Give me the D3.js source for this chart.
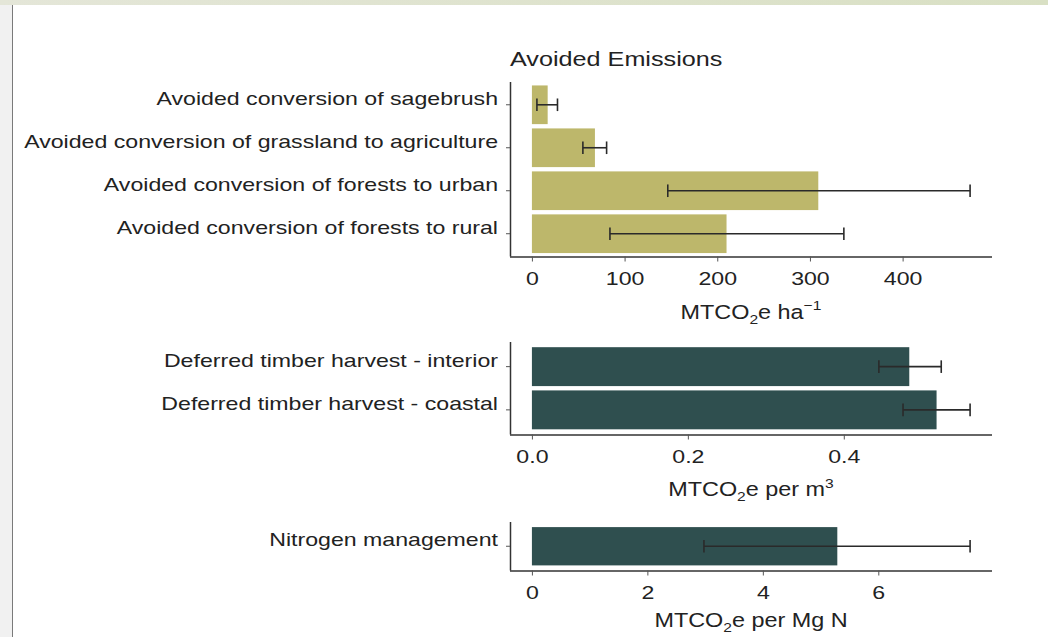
<!DOCTYPE html>
<html>
<head>
<meta charset="utf-8">
<script src="https://cdn.jsdelivr.net/npm/d3@7/dist/d3.min.js"></script>
<style>
  html, body { margin: 0; padding: 0; background: #fff; }
  svg { display: block; }
  text { font-family: "Liberation Sans", Arial, sans-serif; }
</style>
</head>
<body>
<svg id="chart" width="1048" height="637"></svg>
<script>
// Avoided emissions (MTCO2e ha^-1)
const avoidedCategories = [
  "Avoided conversion of sagebrush",
  "Avoided conversion of grassland to agriculture",
  "Avoided conversion of forests to urban",
  "Avoided conversion of forests to rural"
];
const avoidedValues = [17, 68, 309, 210];
const avoidedLow = [5.4, 55, 146.6, 84.2];
const avoidedHigh = [27.6, 80.6, 472.8, 336.6];
const avoidedTicks = [0, 100, 200, 300, 400];

// Deferred timber harvest (MTCO2e per m^3)
const timberCategories = [
  "Deferred timber harvest - interior",
  "Deferred timber harvest - coastal"
];
const timberValues = [0.484, 0.519];
const timberLow = [0.445, 0.476];
const timberHigh = [0.525, 0.562];
const timberTicks = [0, 0.2, 0.4];

// Nitrogen management (MTCO2e per Mg N)
const nitrogenCategories = ["Nitrogen management"];
const nitrogenValues = [5.29];
const nitrogenLow = [2.98];
const nitrogenHigh = [7.59];
const nitrogenTicks = [0, 2, 4, 6];

const svg = d3.select("#chart");

// wide-set text: horizontal stretch applied to labels
const LABEL_STRETCH = 1.25;
const TITLE_STRETCH = 1.2;
const textColor = "#222";

// page frame
const frameGrad = svg.append("defs").append("linearGradient")
  .attr("id", "topband").attr("x1", 0).attr("x2", 1);
frameGrad.append("stop").attr("offset", 0).attr("stop-color", "#e4e6d8");
frameGrad.append("stop").attr("offset", 1).attr("stop-color", "#d9e0c4");
svg.append("rect").attr("x", 0).attr("y", 0).attr("width", 1048).attr("height", 5)
  .attr("fill", "url(#topband)");
svg.append("rect").attr("x", 0).attr("y", 5).attr("width", 12).attr("height", 632)
  .attr("fill", "#f1f1f1");
svg.append("line").attr("x1", 12.5).attr("x2", 12.5).attr("y1", 5).attr("y2", 637)
  .attr("stroke", "#7a7a7a").attr("stroke-width", 1);

const left = 510, right = 992;

function panel(opts) {
  const { categories, values, low, high, ticks, fmt, color, top, bottom, bandPad } = opts;
  const maxV = d3.max(high);
  const pad = maxV * 0.05;
  const x = d3.scaleLinear().domain([-pad, maxV + pad]).range([left, right]);
  const y = d3.scaleBand().domain(categories).range([top, bottom]).paddingInner(0.1).paddingOuter(bandPad);

  const g = svg.append("g");

  g.selectAll("rect.bar").data(values).join("rect")
    .attr("class", "bar")
    .attr("x", x(0))
    .attr("y", (d, i) => y(categories[i]))
    .attr("width", d => x(d) - x(0))
    .attr("height", y.bandwidth())
    .attr("fill", color);

  const cap = 6.3;
  const eb = g.selectAll("g.err").data(values).join("g").attr("class", "err")
    .attr("transform", (d, i) => `translate(0,${y(categories[i]) + y.bandwidth() / 2})`);
  eb.append("line")
    .attr("x1", (d, i) => x(low[i])).attr("x2", (d, i) => x(high[i]))
    .attr("stroke", "#2a2a2a").attr("stroke-width", 1.6);
  eb.append("line")
    .attr("x1", (d, i) => x(low[i])).attr("x2", (d, i) => x(low[i]))
    .attr("y1", -cap).attr("y2", cap)
    .attr("stroke", "#2a2a2a").attr("stroke-width", 1.6);
  eb.append("line")
    .attr("x1", (d, i) => x(high[i])).attr("x2", (d, i) => x(high[i]))
    .attr("y1", -cap).attr("y2", cap)
    .attr("stroke", "#2a2a2a").attr("stroke-width", 1.6);

  // axes
  const xAxis = d3.axisBottom(x).tickValues(ticks).tickFormat(fmt).tickSize(5).tickPadding(10);
  const xa = g.append("g").attr("transform", `translate(0,${bottom})`).call(xAxis);
  xa.select(".domain").attr("d", `M${left},0.5H${right}`).attr("stroke", "#333").attr("stroke-width", 1.5);
  xa.selectAll(".tick line").attr("stroke", "#555");
  xa.selectAll(".tick text").attr("font-size", 18.5).attr("fill", textColor)
    .attr("transform", `scale(${LABEL_STRETCH},1)`);

  const yAxis = d3.axisLeft(y).tickSize(4).tickPadding(3);
  const ya = g.append("g").attr("transform", `translate(${left},0)`).call(yAxis);
  ya.select(".domain").attr("d", `M0.5,${top}V${bottom}`).attr("stroke", "#333").attr("stroke-width", 1.5);
  ya.selectAll(".tick line").attr("stroke", "#555");
  ya.selectAll(".tick text").attr("font-size", 18.5).attr("fill", textColor)
    .attr("x", -12 / LABEL_STRETCH).attr("dy", "0")
    .attr("transform", `scale(${LABEL_STRETCH},1)`);
  return g;
}

function axisTitle(parts, ybase) {
  const cx = (left + right) / 2;
  const t = svg.append("text")
    .attr("transform", `translate(${cx},${ybase}) scale(${TITLE_STRETCH},1)`)
    .attr("text-anchor", "middle").attr("font-size", 19.5).attr("fill", textColor);
  parts.forEach(p => {
    const s = t.append("tspan").text(p.t);
    if (p.sub) s.attr("font-size", 13).attr("dy", 5);
    if (p.sup) s.attr("font-size", 13).attr("dy", -8.5);
    if (p.back) s.attr("dy", p.back);
  });
}

svg.append("text")
  .attr("transform", `translate(510,66) scale(${TITLE_STRETCH},1)`)
  .attr("font-size", 21).attr("fill", textColor)
  .text("Avoided Emissions");

panel({
  categories: avoidedCategories, values: avoidedValues, low: avoidedLow, high: avoidedHigh,
  ticks: avoidedTicks, fmt: d3.format("d"), color: "#bdb76b", top: 82, bottom: 256.5, bandPad: 0.08
});
axisTitle([{ t: "MTCO" }, { t: "2", sub: true }, { t: "e ha", back: -5 }, { t: "\u22121", sup: true }], 318.5);

panel({
  categories: timberCategories, values: timberValues, low: timberLow, high: timberHigh,
  ticks: timberTicks, fmt: d3.format(".1f"), color: "#2f4f4f", top: 342, bottom: 434.5, bandPad: 0.12
});
axisTitle([{ t: "MTCO" }, { t: "2", sub: true }, { t: "e per m", back: -5 }, { t: "3", sup: true }], 496);

panel({
  categories: nitrogenCategories, values: nitrogenValues, low: nitrogenLow, high: nitrogenHigh,
  ticks: nitrogenTicks, fmt: d3.format("d"), color: "#2f4f4f", top: 522, bottom: 570.5, bandPad: 0.12
});
axisTitle([{ t: "MTCO" }, { t: "2", sub: true }, { t: "e per Mg N", back: -5 }], 627);
</script>
</body>
</html>
